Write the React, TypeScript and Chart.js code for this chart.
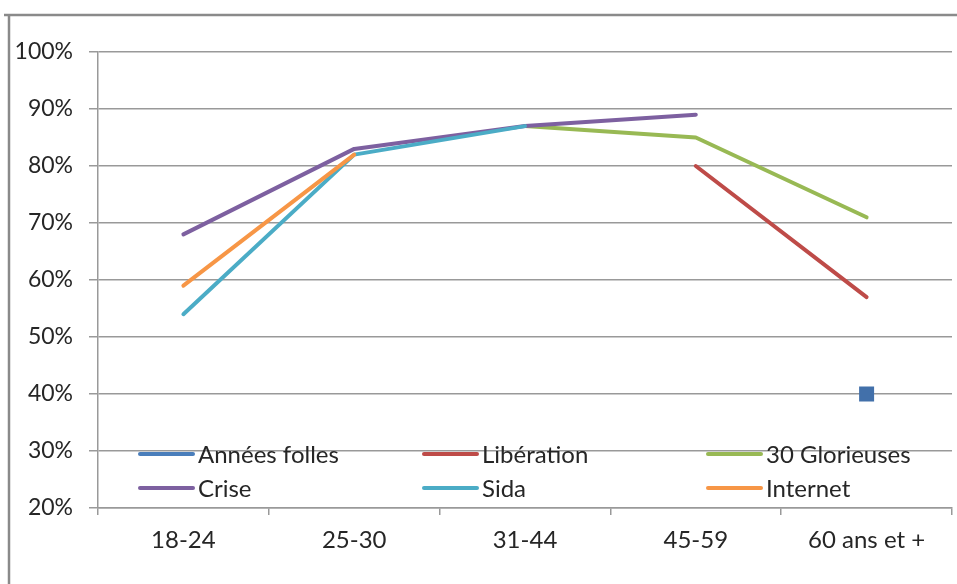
import React, { useEffect, useRef } from "react";
import { Chart, registerables } from "chart.js";

Chart.register(...registerables);

const categories = ["18-24", "25-30", "31-44", "45-59", "60 ans et +"];
const seriesNames = ["Années folles", "Libération", "30 Glorieuses", "Crise", "Sida", "Internet"];
const anneesFolles = [null, null, null, null, 40];
const liberation = [null, null, null, 80, 57];
const glorieuses = [null, null, 87, 85, 71];
const crise = [68, 83, 87, 89, null];
const sida = [54, 82, 87, null, null];
const internet = [59, 82, null, null, null];
const seriesColors = ["#4A7EBB", "#BE4B48", "#98B954", "#7D60A0", "#4BACC6", "#F79646"];
const yMin = 20;
const yMax = 100;
const yStep = 10;

const FONT = "Lato, 'Open Sans', sans-serif";
const TEXT = "#262626";

const framePlugin = {
  id: "frame",
  beforeDraw(chart: any) {
    const ctx = chart.ctx;
    ctx.save();
    ctx.fillStyle = "#ffffff";
    ctx.fillRect(0, 0, chart.width, chart.height);
    ctx.strokeStyle = "#8a8a8a";
    ctx.lineWidth = 2.5;
    ctx.beginPath();
    ctx.moveTo(4, 15);
    ctx.lineTo(chart.width, 15);
    ctx.moveTo(9, 15);
    ctx.lineTo(9, chart.height);
    ctx.stroke();
    ctx.restore();
  },
};

const legendPlugin = {
  id: "innerLegend",
  afterDraw(chart: any) {
    const ctx = chart.ctx;
    const colX = [140, 424, 708];
    const rowY = [454, 488];
    ctx.save();
    ctx.font = `24px ${FONT}`;
    ctx.textBaseline = "middle";
    ctx.textAlign = "left";
    chart.data.datasets.forEach((ds: any, i: number) => {
      const x = colX[i % 3];
      const y = rowY[Math.floor(i / 3)];
      ctx.strokeStyle = ds.borderColor;
      ctx.lineWidth = 4;
      ctx.lineCap = "round";
      ctx.beginPath();
      ctx.moveTo(x, y);
      ctx.lineTo(x + 53, y);
      ctx.stroke();
      ctx.fillStyle = TEXT;
      ctx.fillText(ds.label, x + 58, y + 1);
    });
    ctx.restore();
  },
};

export default function App() {
  const ref = useRef<HTMLCanvasElement>(null);
  useEffect(() => {
    document.body.style.margin = "0";
    const values = [anneesFolles, liberation, glorieuses, crise, sida, internet];
    const chart = new Chart(ref.current as HTMLCanvasElement, {
      type: "line",
      data: {
        labels: categories,
        datasets: values.map((v, i) => ({
          label: seriesNames[i],
          data: v,
          borderColor: seriesColors[i],
          backgroundColor: seriesColors[i],
          borderWidth: 4,
          borderCapStyle: "round",
          borderJoinStyle: "round",
          pointRadius: i === 0 ? 10.6 : 0,
          pointStyle: "rect",
          pointBorderWidth: 0,
          pointBackgroundColor: "#4270AA",
          spanGaps: false,
          tension: 0,
          order: 10 - i,
        })) as any,
      },
      options: {
        responsive: false,
        animation: false,
        layout: { autoPadding: false, padding: { left: 0, right: 5, top: 52, bottom: 0 } },
        plugins: { legend: { display: false }, tooltip: { enabled: false } },
        scales: {
          x: {
            offset: true,
            grid: {
              offset: true,
              drawOnChartArea: false,
              drawTicks: true,
              tickLength: 7,
              color: "#999999",
              lineWidth: 1.5,
            },
            border: { display: true, color: "#999999", width: 1.5 },
            ticks: { color: TEXT, font: { family: FONT, size: 24 }, padding: 11, maxRotation: 0 },
            afterFit: (s: any) => {
              s.height = 76;
              s.paddingLeft = 0;
              s.paddingRight = 0;
            },
          },
          y: {
            min: yMin,
            max: yMax,
            ticks: {
              stepSize: yStep,
              color: TEXT,
              font: { family: FONT, size: 23 },
              padding: 16,
              callback: (v: any) => `${v}%`,
            },
            grid: { color: "#999999", lineWidth: 1.5, tickLength: 9, drawTicks: true },
            border: { display: true, color: "#999999", width: 1.5 },
            afterFit: (s: any) => {
              s.width = 98;
            },
          },
        },
      },
      plugins: [framePlugin, legendPlugin],
    });
    return () => chart.destroy();
  }, []);
  return (
    <div style={{ width: 957, height: 584 }}>
      <canvas ref={ref} width={957} height={584} />
    </div>
  );
}
